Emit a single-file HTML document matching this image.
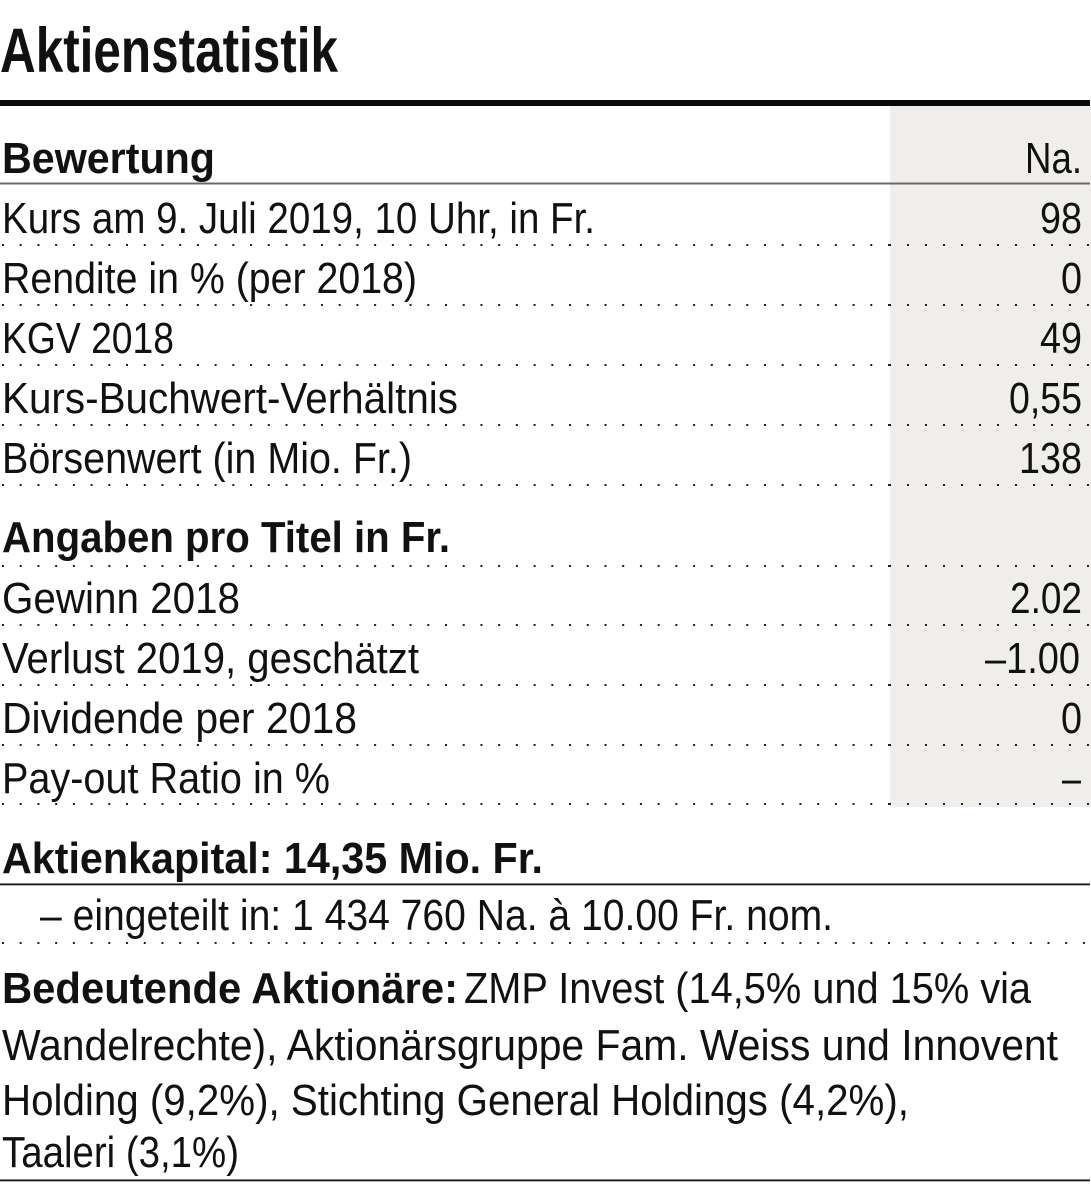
<!DOCTYPE html>
<html>
<head>
<meta charset="utf-8">
<style>
  html,body{margin:0;padding:0;background:#fff;}
  body{width:1091px;height:1201px;overflow:hidden;}
  svg{display:block;}
  text{font-family:"Liberation Sans", "DejaVu Sans", sans-serif; fill:#111;}
  .b{font-weight:bold;}
  .r{font-size:44px;}
  .h{font-size:44px;font-weight:bold;}
</style>
</head>
<body>
<svg width="1091" height="1201" viewBox="0 0 1091 1201" xmlns="http://www.w3.org/2000/svg">
  <!-- shaded value column -->
  <rect x="890" y="106" width="201" height="701" fill="#efeeea"/>

  <!-- title -->
  <text x="0" y="72" font-size="63" class="b" textLength="338" lengthAdjust="spacingAndGlyphs">Aktienstatistik</text>
  <rect x="0" y="100" width="1090" height="6" fill="#0a0a0a"/>

  <!-- Bewertung header -->
  <text x="2" y="173" class="h" textLength="213" lengthAdjust="spacingAndGlyphs">Bewertung</text>
  <text x="1025" y="173" class="r" textLength="57" lengthAdjust="spacingAndGlyphs">Na.</text>
  <rect x="0" y="182.5" width="1090" height="2" fill="#6a6a6a"/>

  <!-- rows -->
  <text x="2" y="233" class="r" textLength="593" lengthAdjust="spacingAndGlyphs">Kurs am 9. Juli 2019, 10 Uhr, in Fr.</text>
  <text x="1040" y="233" class="r" textLength="42" lengthAdjust="spacingAndGlyphs">98</text>

  <text x="2" y="293" class="r" textLength="415" lengthAdjust="spacingAndGlyphs">Rendite in % (per 2018)</text>
  <text x="1061" y="293" class="r" textLength="21" lengthAdjust="spacingAndGlyphs">0</text>

  <text x="2" y="353" class="r" textLength="172" lengthAdjust="spacingAndGlyphs">KGV 2018</text>
  <text x="1040" y="353" class="r" textLength="42" lengthAdjust="spacingAndGlyphs">49</text>

  <text x="2" y="413" class="r" textLength="456" lengthAdjust="spacingAndGlyphs">Kurs-Buchwert-Verhältnis</text>
  <text x="1009" y="413" class="r" textLength="73" lengthAdjust="spacingAndGlyphs">0,55</text>

  <text x="2" y="473" class="r" textLength="410" lengthAdjust="spacingAndGlyphs">Börsenwert (in Mio. Fr.)</text>
  <text x="1019" y="473" class="r" textLength="63" lengthAdjust="spacingAndGlyphs">138</text>

  <text x="2" y="552" class="h" textLength="448" lengthAdjust="spacingAndGlyphs">Angaben pro Titel in Fr.</text>

  <text x="2" y="613" class="r" textLength="238" lengthAdjust="spacingAndGlyphs">Gewinn 2018</text>
  <text x="1010" y="613" class="r" textLength="72" lengthAdjust="spacingAndGlyphs">2.02</text>

  <text x="2" y="673" class="r" textLength="417" lengthAdjust="spacingAndGlyphs">Verlust 2019, geschätzt</text>
  <text x="985" y="673" class="r" textLength="95" lengthAdjust="spacingAndGlyphs">–1.00</text>

  <text x="2" y="733" class="r" textLength="355" lengthAdjust="spacingAndGlyphs">Dividende per 2018</text>
  <text x="1061" y="733" class="r" textLength="21" lengthAdjust="spacingAndGlyphs">0</text>

  <text x="2" y="793" class="r" textLength="328" lengthAdjust="spacingAndGlyphs">Pay-out Ratio in %</text>
  <text x="1062" y="793" class="r" textLength="19" lengthAdjust="spacingAndGlyphs">–</text>

  <!-- dotted separators (left part) -->
  <g stroke="#222" stroke-width="2" stroke-dasharray="2 15.72" fill="none">
    <line x1="2" y1="245" x2="889" y2="245"/>
    <line x1="2" y1="305" x2="889" y2="305"/>
    <line x1="2" y1="365" x2="889" y2="365"/>
    <line x1="2" y1="425" x2="889" y2="425"/>
    <line x1="2" y1="485" x2="889" y2="485"/>
    <line x1="2" y1="566" x2="889" y2="566"/>
    <line x1="2" y1="625" x2="889" y2="625"/>
    <line x1="2" y1="685" x2="889" y2="685"/>
    <line x1="2" y1="745" x2="889" y2="745"/>
    <line x1="2" y1="804" x2="889" y2="804"/>
    <line x1="2" y1="943" x2="1091" y2="943"/>
  </g>
  <!-- dotted separators (shaded part) -->
  <g stroke="#222" stroke-width="2" stroke-dasharray="2 16" fill="none">
    <line x1="889" y1="245" x2="1091" y2="245"/>
    <line x1="889" y1="305" x2="1091" y2="305"/>
    <line x1="889" y1="365" x2="1091" y2="365"/>
    <line x1="889" y1="425" x2="1091" y2="425"/>
    <line x1="889" y1="485" x2="1091" y2="485"/>
    <line x1="889" y1="566" x2="1091" y2="566"/>
    <line x1="889" y1="625" x2="1091" y2="625"/>
    <line x1="889" y1="685" x2="1091" y2="685"/>
    <line x1="889" y1="745" x2="1091" y2="745"/>
    <line x1="889" y1="804" x2="1091" y2="804"/>
  </g>

  <!-- Aktienkapital -->
  <text x="2" y="873" class="h" textLength="541" lengthAdjust="spacingAndGlyphs">Aktienkapital: 14,35 Mio. Fr.</text>
  <rect x="0" y="883.5" width="1090" height="1.8" fill="#111"/>
  <text x="40" y="930" class="r" textLength="793" lengthAdjust="spacingAndGlyphs">– eingeteilt in: 1 434 760 Na. à 10.00 Fr. nom.</text>

  <!-- Bedeutende Aktionäre -->
  <text x="2" y="1003" class="h" textLength="456" lengthAdjust="spacingAndGlyphs">Bedeutende Aktionäre:</text>
  <text x="464" y="1003" class="r" textLength="567" lengthAdjust="spacingAndGlyphs">ZMP Invest (14,5% und 15% via</text>
  <text x="2" y="1060" class="r" textLength="1056" lengthAdjust="spacingAndGlyphs">Wandelrechte), Aktionärsgruppe Fam. Weiss und Innovent</text>
  <text x="2" y="1115" class="r" textLength="907" lengthAdjust="spacingAndGlyphs">Holding (9,2%), Stichting General Holdings (4,2%),</text>
  <text x="2" y="1167" class="r" textLength="237" lengthAdjust="spacingAndGlyphs">Taaleri (3,1%)</text>

  <rect x="0" y="1179.5" width="1090" height="1.8" fill="#111"/>
</svg>
</body>
</html>
